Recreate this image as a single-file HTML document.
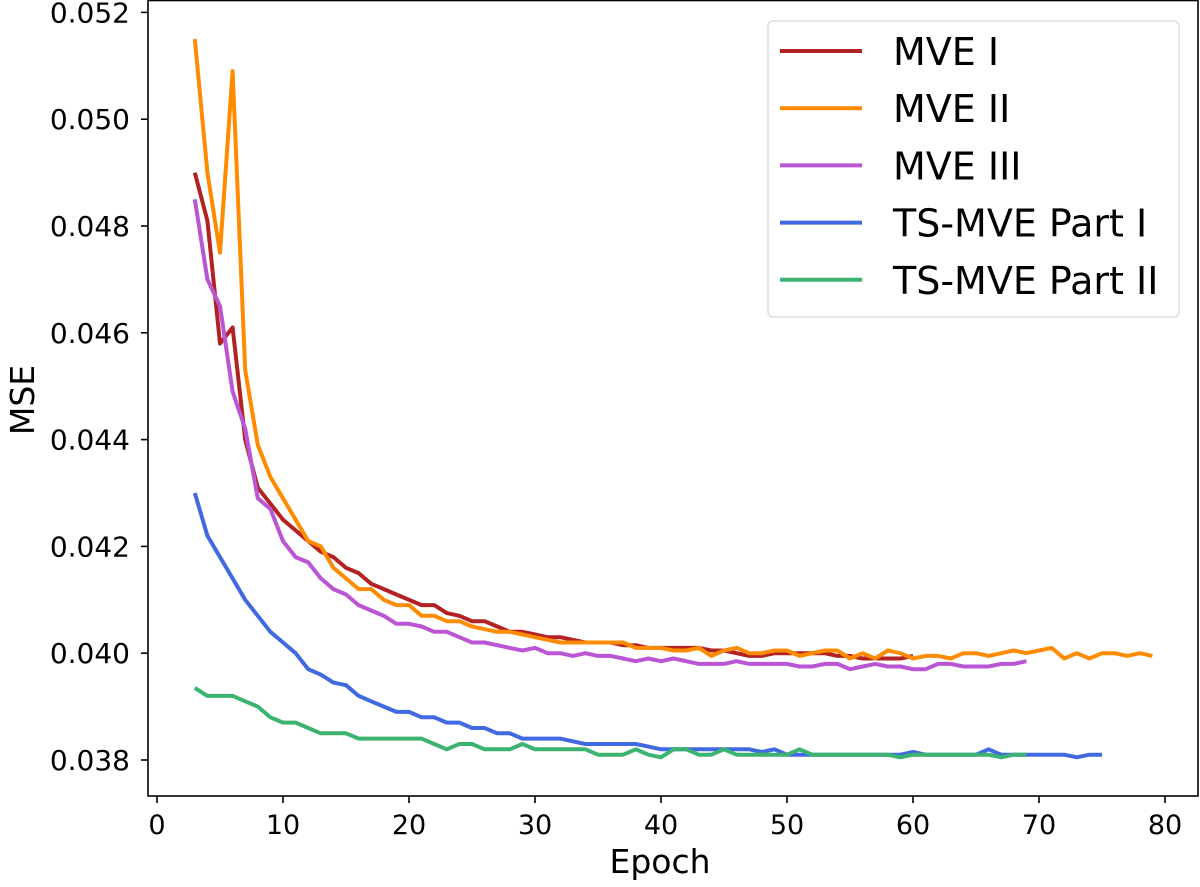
<!DOCTYPE html>
<html><head><meta charset="utf-8"><style>
html,body{margin:0;padding:0;background:#fff;}
svg{display:block;font-family:"DejaVu Sans","Liberation Sans",sans-serif;}
</style></head><body>
<svg id="chart" width="1200" height="887" viewBox="0 0 1200 887" xmlns="http://www.w3.org/2000/svg"></svg>
<script>
const xTicks=[0,10,20,30,40,50,60,70,80];
const yTicks=[0.038,0.040,0.042,0.044,0.046,0.048,0.050,0.052];
const seriesNames=["MVE I","MVE II","MVE III","TS-MVE Part I","TS-MVE Part II"];
const seriesColors=["#b22222","#ff8c00","#ba55d3","#4169e1","#3cb371"];
const mve1=[0.0490,0.0481,0.0458,0.0461,0.0440,0.0431,0.0428,0.0425,0.0423,0.0421,0.0419,0.0418,0.0416,0.0415,0.0413,0.0412,0.0411,0.0410,0.0409,0.0409,0.04075,0.0407,0.0406,0.0406,0.0405,0.0404,0.0404,0.04035,0.0403,0.0403,0.04025,0.0402,0.0402,0.0402,0.04015,0.04015,0.0401,0.0401,0.0401,0.0401,0.0401,0.04005,0.04005,0.0400,0.03995,0.03995,0.0400,0.0400,0.0400,0.0400,0.0400,0.03995,0.03995,0.0399,0.0399,0.0399,0.0399,0.03995];
const mve2=[0.0515,0.0490,0.0475,0.0509,0.0453,0.0439,0.0433,0.0429,0.0425,0.0421,0.0420,0.0416,0.0414,0.0412,0.0412,0.0410,0.0409,0.0409,0.0407,0.0407,0.0406,0.0406,0.0405,0.04045,0.0404,0.0404,0.04035,0.0403,0.04025,0.0402,0.0402,0.0402,0.0402,0.0402,0.0402,0.0401,0.0401,0.0401,0.04005,0.04005,0.0401,0.03995,0.04005,0.0401,0.0400,0.0400,0.04005,0.04005,0.03995,0.0400,0.04005,0.04005,0.0399,0.0400,0.0399,0.04005,0.0400,0.0399,0.03995,0.03995,0.0399,0.0400,0.0400,0.03995,0.0400,0.04005,0.0400,0.04005,0.0401,0.0399,0.0400,0.0399,0.0400,0.0400,0.03995,0.0400,0.03995];
const mve3=[0.0485,0.0470,0.0465,0.0449,0.0442,0.0429,0.0427,0.0421,0.0418,0.0417,0.0414,0.0412,0.0411,0.0409,0.0408,0.0407,0.04055,0.04055,0.0405,0.0404,0.0404,0.0403,0.0402,0.0402,0.04015,0.0401,0.04005,0.0401,0.0400,0.0400,0.03995,0.0400,0.03995,0.03995,0.0399,0.03985,0.0399,0.03985,0.0399,0.03985,0.0398,0.0398,0.0398,0.03985,0.0398,0.0398,0.0398,0.0398,0.03975,0.03975,0.0398,0.0398,0.0397,0.03975,0.0398,0.03975,0.03975,0.0397,0.0397,0.0398,0.0398,0.03975,0.03975,0.03975,0.0398,0.0398,0.03985];
const ts1=[0.0430,0.0422,0.0418,0.0414,0.0410,0.0407,0.0404,0.0402,0.0400,0.0397,0.0396,0.03945,0.0394,0.0392,0.0391,0.0390,0.0389,0.0389,0.0388,0.0388,0.0387,0.0387,0.0386,0.0386,0.0385,0.0385,0.0384,0.0384,0.0384,0.0384,0.03835,0.0383,0.0383,0.0383,0.0383,0.0383,0.03825,0.0382,0.0382,0.0382,0.0382,0.0382,0.0382,0.0382,0.0382,0.03815,0.0382,0.0381,0.0381,0.0381,0.0381,0.0381,0.0381,0.0381,0.0381,0.0381,0.0381,0.03815,0.0381,0.0381,0.0381,0.0381,0.0381,0.0382,0.0381,0.0381,0.0381,0.0381,0.0381,0.0381,0.03805,0.0381,0.0381];
const ts2=[0.03935,0.0392,0.0392,0.0392,0.0391,0.0390,0.0388,0.0387,0.0387,0.0386,0.0385,0.0385,0.0385,0.0384,0.0384,0.0384,0.0384,0.0384,0.0384,0.0383,0.0382,0.0383,0.0383,0.0382,0.0382,0.0382,0.0383,0.0382,0.0382,0.0382,0.0382,0.0382,0.0381,0.0381,0.0381,0.0382,0.0381,0.03805,0.0382,0.0382,0.0381,0.0381,0.0382,0.0381,0.0381,0.0381,0.0381,0.0381,0.0382,0.0381,0.0381,0.0381,0.0381,0.0381,0.0381,0.0381,0.03805,0.0381,0.0381,0.0381,0.0381,0.0381,0.0381,0.0381,0.03805,0.0381,0.0381];
const allSeries=[mve1,mve2,mve3,ts1,ts2];
const startEpoch=3;

const NS="http://www.w3.org/2000/svg";
const svg=document.getElementById('chart');
const L=148,R=1198,T=0.5,B=796;
const xS=e=>157+e*12.6;
const yS=v=>760-(v-0.038)*53400;
function mk(t,a){const e=document.createElementNS(NS,t);for(const k in a)e.setAttribute(k,a[k]);return e;}
allSeries.forEach((s,i)=>{
  const pts=s.map((v,j)=>xS(startEpoch+j).toFixed(1)+","+yS(v).toFixed(1)).join(" ");
  const pl=mk('polyline',{points:pts,fill:'none',stroke:seriesColors[i],'stroke-width':4,'stroke-linejoin':'round'});
  
  
  svg.appendChild(pl);
});
const fr=mk('rect',{x:L,y:T,width:R-L,height:B-T,fill:'none',stroke:'#000','stroke-width':1.6});


svg.appendChild(fr);
xTicks.forEach(t=>{
  const x=xS(t);
  const ln=mk('line',{x1:x,x2:x,y1:B,y2:B+7,stroke:'#000','stroke-width':1.6});
  
  
  svg.appendChild(ln);
  const tx=mk('text',{x:x,y:834,'text-anchor':'middle','font-size':27,fill:'#000'});
  tx.textContent=t;
  
  
  svg.appendChild(tx);
});
yTicks.forEach(t=>{
  const y=yS(t);
  const ln=mk('line',{x1:L-7,x2:L,y1:y,y2:y,stroke:'#000','stroke-width':1.6});
  
  
  svg.appendChild(ln);
  const tx=mk('text',{x:130,y:y+10,'text-anchor':'end','font-size':28,fill:'#000'});
  tx.textContent=t.toFixed(3);
  
  
  svg.appendChild(tx);
});
const xl=mk('text',{x:660,y:873,'text-anchor':'middle','font-size':33,fill:'#000'});
xl.textContent='Epoch';


svg.appendChild(xl);
const yl=mk('text',{x:0,y:0,'text-anchor':'middle','font-size':33,fill:'#000',transform:'translate(34,400) rotate(-90)'});
yl.textContent='MSE';


svg.appendChild(yl);
const lg=mk('rect',{x:768,y:21,width:411,height:296,rx:5,fill:'#fff','fill-opacity':0.8,stroke:'#ddd','stroke-width':1.5});


svg.appendChild(lg);
seriesNames.forEach((n,i)=>{
  const y=51+i*57.2;
  const ln=mk('line',{x1:780,x2:862,y1:y,y2:y,stroke:seriesColors[i],'stroke-width':4});
  
  
  svg.appendChild(ln);
  const tx=mk('text',{x:893,y:y+14,'font-size':38,fill:'#000'});
  tx.textContent=n;
  
  
  svg.appendChild(tx);
});
</script>
</body></html>
